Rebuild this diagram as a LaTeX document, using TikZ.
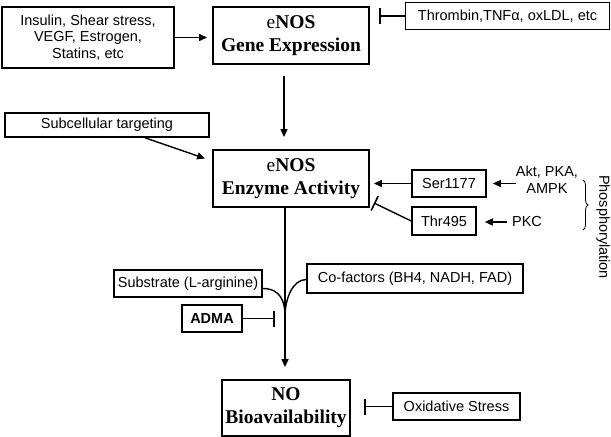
\documentclass[tikz,border=0pt]{standalone}
\usepackage{fontspec}
\newfontfamily\arialf{Liberation Sans}
\newfontfamily\timesf{Liberation Serif}
\usetikzlibrary{arrows.meta,decorations.pathreplacing,calc}
\begin{document}
\begin{tikzpicture}[x=1bp,y=-1bp,
  sbox/.style={draw, line width=1.6bp, inner sep=0pt, align=center, font=\arialf\fontsize{14.5bp}{16.5bp}\selectfont},
  mbox/.style={draw, line width=1.9bp, inner sep=0pt, align=center, font=\timesf\bfseries\fontsize{19.5bp}{23bp}\selectfont},
  lbl/.style={inner sep=0pt, align=center, font=\arialf\fontsize{14.5bp}{17bp}\selectfont},
  arr/.style={line width=1.4bp, -{Triangle[length=8bp,width=7bp]}},
  inh/.style={line width=1.4bp, -{Bar[width=16bp,line width=1.6bp]}},
  ln/.style={line width=1.4bp},
]
\useasboundingbox (0,0) rectangle (611,437);
\fill[white] (0,0) rectangle (611,437);

\node[sbox, minimum width=172bp, minimum height=61bp] (ins) at (88,37.5) {Insulin, Shear stress,\\VEGF, Estrogen,\\Statins, etc};
\node[mbox, minimum width=156bp, minimum height=57bp] (gene) at (291,35.5) {{\mdseries e}NOS\\Gene Expression};
\node[sbox, minimum width=204bp, minimum height=27bp] (thr) at (507.5,16) {Thrombin,TNFα, oxLDL, etc};
\node[sbox, minimum width=204bp, minimum height=24bp] (sub) at (107,125) {Subcellular targeting};
\node[mbox, minimum width=156bp, minimum height=57bp] (enz) at (291,178.5) {{\mdseries e}NOS\\Enzyme Activity};
\node[sbox, minimum width=74bp, minimum height=27bp] (ser) at (449,183.5) {Ser1177};
\node[sbox, minimum width=64bp, minimum height=28bp] (thrf) at (444,221) {Thr495};
\node[lbl] (akt) at (547,180) {Akt, PKA,\\AMPK};
\node[lbl] (pkc) at (527,222) {PKC};
\node[lbl, rotate=-90] (ph) at (603,227) {Phosphorylation};
\node[sbox, minimum width=148bp, minimum height=27bp] (subs) at (188,283.5) {Substrate (L-arginine)};
\node[sbox, minimum width=216bp, minimum height=29bp] (cof) at (415,278.5) {Co-factors (BH4, NADH, FAD)};
\node[sbox, minimum width=60bp, minimum height=27bp, font=\arialf\bfseries\fontsize{14.5bp}{16.5bp}\selectfont] (adma) at (212,318.5) {ADMA};
\node[mbox, minimum width=128bp, minimum height=56bp] (nob) at (286,408) {NO\\Bioavailability};
\node[sbox, minimum width=127bp, minimum height=27bp] (ox) at (456.5,406.5) {Oxidative Stress};
\coordinate (jn) at (285,316);

\draw[arr, shorten >=5bp] (ins.east) -- (ins.east -| gene.west);
\draw[inh, shorten >=9bp] (thr.west) -- (thr.west -| gene.east);
\draw[arr, shorten <=11bp, shorten >=12bp] ([xshift=-7bp]gene.south) -- ([xshift=-7bp]enz.north);
\draw[arr] ([xshift=38bp]sub.south) -- ($(enz.west)+(-7,-20)$);
\draw[arr, shorten >=4bp] (ser.west) -- (ser.west -| enz.east);
\draw[inh] (thrf.west) -- ($(enz.south east)+(4,-5)$);
\draw[arr, shorten >=6bp] (akt.west |- ser.east) -- (ser.east);
\draw[arr, shorten <=5bp, shorten >=8bp] (pkc.west) -- (pkc.west -| thrf.east);
\draw[decorate, decoration={brace, amplitude=5bp}, line width=0.8bp] (583,180) -- (583,230);

\draw[ln] ($(subs.east)+(0,5)$) .. controls ($(subs.east)+(18,5)$) and ($(jn)+(0,-14)$) .. (jn);
\draw[ln] ($(cof.west)+(0,1)$) .. controls ($(cof.west)+(-14,1)$) and ($(jn)+(0,-16)$) .. (jn);
\draw[arr, shorten >=12bp] (enz.south -| jn) -- (nob.north -| jn);
\draw[inh, shorten >=10bp] (adma.east) -- (adma.east -| jn);
\draw[inh, shorten >=13bp] (ox.west) -- (ox.west -| nob.east);
\end{tikzpicture}
\end{document}
